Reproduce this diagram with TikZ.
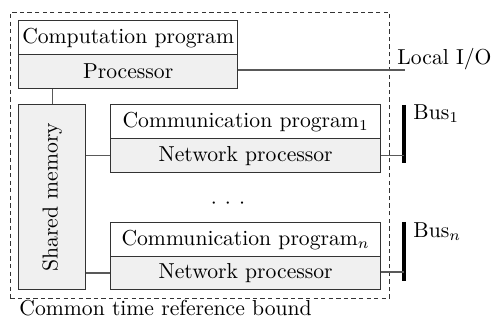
\documentclass[tikz,border=0pt]{standalone}
\begin{document}
\begin{tikzpicture}[x=0.462pt,y=-0.462pt,
  box/.style={draw=black!80,line width=0.6pt,rectangle,anchor=north west,inner sep=0pt,minimum height=34*0.462pt},
  lower/.style={box,fill=black!6},
  conn/.style={draw=black!65,line width=0.6pt},
  busline/.style={line width=1.6pt,black},
  bound/.style={draw=black!80,line width=0.45pt,dash pattern=on 2pt off 1.5pt}]
\useasboundingbox (0,0) rectangle (492,325);
\node[bound,rectangle,anchor=north west,minimum width=379*0.462pt,minimum height=286*0.462pt,inner sep=0pt] (frame) at (10,12) {};
\node[box,minimum width=219*0.462pt] (comp) at (18,20) {Computation program};
\node[lower,minimum width=219*0.462pt] (proc) at (18,54) {Processor};
\node[lower,minimum width=67*0.462pt,minimum height=185*0.462pt] (mem) at (18,104) {};
\node[rotate=90,inner sep=0pt] (memtext) at (mem.center) {Shared memory};
\node[box,minimum width=270*0.462pt] (cp1) at (110,104) {Communication program$_1$};
\node[lower,minimum width=270*0.462pt] (np1) at (110,138) {Network processor};
\node[box,minimum width=270*0.462pt] (cpn) at (110,222) {Communication program$_n$};
\node[lower,minimum width=270*0.462pt,minimum height=33*0.462pt] (npn) at (110,256) {Network processor};
\node[inner sep=0pt] (dots) at (228,204) {\makebox[6.5pt]{$\cdot$}\makebox[6.5pt]{$\cdot$}\makebox[6.5pt]{$\cdot$}};
\coordinate (lioend) at (405,70);
\coordinate (b1top) at (404,105);
\coordinate (b1bot) at (404,163);
\coordinate (bntop) at (404,222);
\coordinate (bnbot) at (404,281);
\draw[busline] (b1top) -- (b1bot);
\draw[busline] (bntop) -- (bnbot);
\node[anchor=north west,inner sep=0pt] (bus1) at (413,104) {Bus$_1$};
\node[anchor=north west,inner sep=0pt] (busn) at (413,222) {Bus$_n$};
\node[anchor=base west,inner sep=0pt] (lio) at (397,65) {Local I/O};
\node[anchor=base west,inner sep=0pt] (ctrb) at (19,316) {Common time reference bound};
\draw[conn] (proc.east |- lioend) -- (lioend);
\draw[conn] (mem.north) -- (mem.north |- proc.south);
\draw[conn] (np1.west) -- (np1.west -| mem.east);
\draw[conn] (npn.west) -- (npn.west -| mem.east);
\draw[conn] (np1.east) -- (np1.east -| b1top);
\draw[conn] (npn.east |- 0,272) -- (bntop |- 0,272);
\end{tikzpicture}
\end{document}
